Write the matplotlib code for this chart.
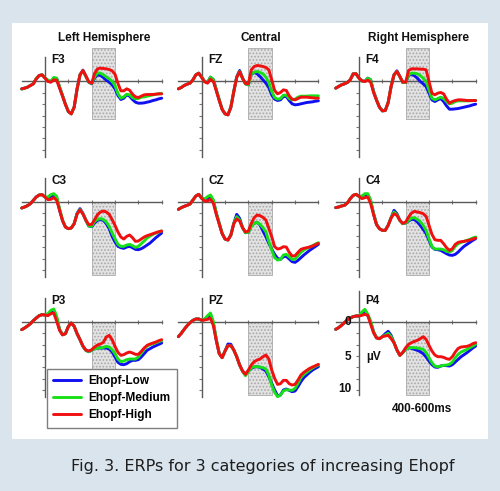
import numpy as np
import matplotlib
matplotlib.use('Agg')
import matplotlib.pyplot as plt
from matplotlib.patches import Rectangle

## Data: ERP amplitudes in microvolts (positive plotted downwards), every 25 ms
times = np.arange(-200, 1001, 25)

f3_low = [1.1, 1.0, 0.85, 0.6, 0.35, -0.4, -0.9, -1.0, -0.55, -0.15, 0.05, -0.5, -0.45, 0.85, 2.1, 3.4, 4.5, 4.85, 3.85, 1.1, -1.0, -1.7, -0.8, 0.1, 0.35,
          -0.5, -1.0, -0.9, -0.6, -0.2, 0.1, 0.5, 1.1, 2.1, 2.7, 2.5, 2.0, 2.2, 2.7, 3.1, 3.25, 3.25, 3.2, 3.1, 3.0, 2.85, 2.75, 2.6, 2.5]
f3_med = [1.15, 1.0, 0.85, 0.6, 0.35, -0.45, -0.9, -1.0, -0.55, -0.2, 0.0, -0.6, -0.5, 0.8, 2.1, 3.4, 4.5, 4.85, 3.85, 1.1, -1.0, -1.6, -0.75, 0.1, 0.3,
          -0.7, -1.3, -1.25, -1.0, -0.7, -0.4, 0.0, 0.6, 1.8, 2.5, 2.3, 1.9, 2.0, 2.4, 2.6, 2.55, 2.35, 2.3, 2.2, 2.1, 2.0, 1.9, 1.85, 1.8]
f3_high = [1.1, 1.0, 0.85, 0.6, 0.35, -0.4, -0.9, -1.0, -0.5, 0.0, 0.1, -0.25, -0.2, 1.0, 2.2, 3.45, 4.5, 4.85, 3.85, 1.1, -1.0, -1.65, -0.85, 0.05, 0.25,
           -1.2, -1.9, -2.0, -1.95, -1.9, -1.8, -1.6, -1.1, 0.3, 1.4, 1.4, 1.1, 1.3, 1.9, 2.3, 2.4, 2.2, 2.0, 1.95, 1.95, 1.95, 1.9, 1.85, 1.85]

fz_low = [1.1, 0.9, 0.6, 0.4, 0.25, -0.25, -1.0, -1.25, -0.65, 0.0, 0.15, -0.65, -0.3, 1.25, 2.75, 4.15, 4.85, 5.0, 3.85, 1.5, -0.7, -1.65, -0.55, 0.35, 0.5,
          -1.1, -1.35, -1.15, -0.75, -0.25, 0.25, 0.9, 2.0, 2.65, 2.85, 2.75, 2.25, 2.25, 2.85, 3.35, 3.5, 3.45, 3.35, 3.25, 3.15, 3.1, 3.05, 2.95, 2.9]
fz_med = [1.1, 0.9, 0.6, 0.4, 0.25, -0.25, -1.0, -1.25, -0.65, 0.0, 0.15, -0.65, -0.3, 1.25, 2.75, 4.15, 4.85, 5.0, 3.85, 1.5, -0.65, -1.5, -0.5, 0.35, 0.5,
          -1.15, -1.4, -1.5, -1.35, -1.15, -0.65, 0.15, 1.5, 2.4, 2.65, 2.55, 2.05, 2.05, 2.55, 2.75, 2.65, 2.35, 2.2, 2.2, 2.2, 2.15, 2.15, 2.15, 2.15]
fz_high = [1.1, 0.9, 0.6, 0.4, 0.25, -0.25, -1.0, -1.25, -0.6, 0.05, 0.25, -0.35, 0.0, 1.4, 2.85, 4.2, 4.85, 5.0, 3.85, 1.5, -0.6, -1.45, -0.45, 0.3, 0.35,
           -1.75, -2.25, -2.4, -2.35, -2.25, -2.1, -1.75, -0.25, 1.35, 1.85, 1.65, 1.25, 1.35, 2.15, 2.65, 2.75, 2.55, 2.35, 2.35, 2.35, 2.4, 2.45, 2.5, 2.5]

f4_low = [1.0, 0.75, 0.5, 0.35, 0.15, -0.25, -1.15, -1.15, -0.5, -0.1, 0.0, -0.5, -0.25, 1.5, 2.75, 3.85, 4.4, 4.35, 3.15, 0.75, -1.0, -1.6, -0.75, 0.15, 0.15,
          -0.9, -1.1, -0.85, -0.5, 0.0, 0.35, 0.75, 1.75, 2.75, 3.0, 2.75, 2.55, 3.0, 3.65, 4.15, 4.15, 4.1, 4.05, 3.95, 3.85, 3.75, 3.65, 3.5, 3.4]
f4_med = [1.0, 0.75, 0.5, 0.35, 0.15, -0.25, -1.15, -1.15, -0.5, -0.1, 0.0, -0.5, -0.25, 1.5, 2.75, 3.85, 4.4, 4.35, 3.15, 0.75, -1.0, -1.5, -0.75, 0.15, 0.15,
          -1.0, -1.25, -1.25, -1.15, -0.9, -0.5, 0.0, 1.25, 2.5, 2.75, 2.55, 2.35, 2.55, 3.0, 3.35, 3.25, 3.0, 2.9, 2.9, 2.9, 2.9, 2.9, 2.85, 2.85]
f4_high = [1.0, 0.75, 0.5, 0.35, 0.15, -0.25, -1.15, -1.15, -0.5, -0.1, 0.0, -0.2, 0.1, 1.65, 2.8, 3.85, 4.4, 4.35, 3.15, 0.75, -1.0, -1.5, -0.75, 0.1, 0.1,
           -1.65, -1.9, -1.9, -1.9, -1.85, -1.85, -1.75, 0.0, 1.75, 2.0, 1.75, 1.65, 1.85, 2.65, 3.25, 3.0, 2.85, 2.75, 2.75, 2.8, 2.85, 2.85, 2.85, 2.85]

c3_low = [0.9, 0.75, 0.55, 0.25, -0.25, -0.75, -1.05, -1.1, -0.75, -0.6, -0.85, -1.0, -0.65, 1.2, 2.75, 3.75, 4.0, 3.9, 3.25, 1.7, 1.0, 1.7, 2.75, 3.6, 3.7,
          3.15, 2.75, 2.65, 2.75, 3.25, 4.0, 5.15, 6.0, 6.65, 6.85, 6.95, 6.75, 6.65, 6.85, 7.1, 7.15, 7.0, 6.75, 6.45, 6.15, 5.75, 5.35, 5.0, 4.65]
c3_med = [0.9, 0.75, 0.55, 0.25, -0.25, -0.75, -1.05, -1.1, -0.75, -0.75, -1.1, -1.25, -0.85, 1.0, 2.7, 3.75, 4.0, 3.9, 3.25, 1.75, 1.15, 1.75, 2.75, 3.6, 3.65,
          2.9, 2.6, 2.5, 2.6, 3.0, 3.65, 4.65, 5.5, 6.35, 6.65, 6.65, 6.45, 6.35, 6.55, 6.8, 6.65, 6.25, 5.85, 5.4, 5.1, 4.85, 4.65, 4.5, 4.35]
c3_high = [0.9, 0.75, 0.55, 0.25, -0.25, -0.75, -1.05, -1.1, -0.75, -0.35, -0.4, -0.65, -0.25, 1.25, 2.8, 3.75, 4.0, 3.9, 3.25, 1.8, 1.2, 1.8, 2.7, 3.4, 3.35,
           2.65, 1.9, 1.5, 1.35, 1.5, 1.85, 2.65, 3.5, 4.5, 5.25, 5.55, 5.15, 4.95, 5.35, 5.9, 5.85, 5.55, 5.25, 5.05, 4.9, 4.75, 4.6, 4.45, 4.35]

cz_low = [1.1, 0.85, 0.65, 0.5, 0.3, -0.3, -0.9, -1.15, -0.55, -0.4, -0.55, -0.8, -0.15, 1.7, 3.2, 4.7, 5.55, 5.7, 4.95, 3.2, 1.85, 2.45, 3.85, 4.6, 4.55,
          3.55, 3.2, 3.05, 3.45, 4.35, 5.2, 6.2, 7.05, 7.85, 8.45, 8.6, 8.2, 8.15, 8.55, 8.95, 9.05, 8.75, 8.35, 7.95, 7.6, 7.25, 6.95, 6.65, 6.35]
cz_med = [1.1, 0.85, 0.65, 0.5, 0.3, -0.3, -0.9, -1.15, -0.55, -0.45, -0.8, -1.05, -0.3, 1.6, 3.2, 4.7, 5.55, 5.7, 4.95, 3.2, 2.2, 2.7, 3.85, 4.6, 4.55,
          3.7, 3.2, 3.05, 3.35, 3.85, 4.45, 5.95, 7.2, 8.35, 8.7, 8.6, 7.95, 7.85, 8.2, 8.6, 8.55, 8.05, 7.55, 7.2, 6.95, 6.75, 6.55, 6.3, 6.1]
cz_high = [1.1, 0.85, 0.65, 0.5, 0.3, -0.3, -0.9, -1.15, -0.55, -0.15, -0.15, -0.4, 0.2, 1.85, 3.3, 4.75, 5.55, 5.7, 4.95, 3.25, 2.55, 2.85, 3.85, 4.5, 4.35,
           3.2, 2.35, 1.95, 2.05, 2.3, 2.7, 3.95, 5.2, 6.7, 7.05, 6.95, 6.7, 6.75, 7.55, 8.1, 8.05, 7.55, 7.1, 6.95, 6.85, 6.75, 6.6, 6.4, 6.2]

c4_low = [0.85, 0.75, 0.6, 0.5, 0.15, -0.5, -1.0, -1.15, -0.85, -0.85, -1.1, -1.1, -0.15, 1.75, 3.35, 4.0, 4.25, 4.25, 3.5, 2.35, 1.25, 1.75, 2.75, 3.25, 3.15,
          2.85, 2.6, 2.65, 3.0, 3.5, 4.1, 4.75, 5.75, 6.75, 7.1, 7.15, 7.25, 7.5, 7.75, 7.95, 8.0, 7.85, 7.5, 7.05, 6.65, 6.35, 6.05, 5.75, 5.5]
c4_med = [0.85, 0.75, 0.6, 0.5, 0.15, -0.5, -1.0, -1.15, -0.85, -0.85, -1.25, -1.25, -0.25, 1.75, 3.35, 4.0, 4.25, 4.25, 3.5, 2.35, 1.5, 1.9, 2.75, 3.25, 3.15,
          2.75, 2.4, 2.35, 2.6, 2.95, 3.5, 4.25, 5.5, 6.65, 7.05, 7.05, 7.05, 7.15, 7.4, 7.5, 7.25, 6.65, 6.25, 6.05, 5.9, 5.75, 5.6, 5.4, 5.25]
c4_high = [0.85, 0.75, 0.6, 0.5, 0.15, -0.5, -1.0, -1.15, -0.85, -0.5, -0.65, -0.75, 0.25, 1.9, 3.4, 4.0, 4.25, 4.25, 3.5, 2.4, 1.75, 2.0, 2.75, 3.2, 3.0,
           2.25, 1.65, 1.4, 1.5, 1.6, 1.75, 2.15, 3.5, 4.85, 5.65, 5.75, 5.75, 6.25, 6.85, 7.25, 7.0, 6.35, 6.05, 5.95, 5.9, 5.8, 5.7, 5.55, 5.4]

p3_low = [1.15, 0.9, 0.6, 0.25, -0.2, -0.6, -0.95, -1.1, -1.05, -1.15, -1.55, -1.75, -0.6, 1.15, 1.9, 1.75, 0.65, 0.15, 0.65, 1.75, 2.65, 3.65, 4.25, 4.45, 4.25,
          3.95, 3.9, 3.9, 3.9, 3.9, 4.05, 4.5, 5.25, 6.05, 6.35, 6.4, 6.25, 5.95, 5.75, 5.75, 5.65, 5.25, 4.75, 4.25, 4.0, 3.75, 3.55, 3.35, 3.15]
p3_med = [1.15, 0.9, 0.6, 0.25, -0.2, -0.6, -0.95, -1.1, -1.05, -1.25, -1.75, -1.95, -0.85, 1.1, 1.9, 1.75, 0.65, 0.15, 0.65, 1.75, 2.65, 3.65, 4.25, 4.45, 4.25,
          4.0, 3.9, 3.9, 3.8, 3.65, 3.75, 4.15, 4.75, 5.55, 5.95, 5.85, 5.65, 5.55, 5.55, 5.55, 5.25, 4.65, 4.05, 3.6, 3.4, 3.25, 3.1, 2.95, 2.8]
p3_high = [1.15, 0.9, 0.6, 0.25, -0.2, -0.6, -0.95, -1.1, -1.05, -0.95, -1.25, -1.35, -0.1, 1.25, 1.95, 1.75, 0.7, 0.15, 0.65, 1.75, 2.65, 3.6, 4.2, 4.35, 4.15,
           3.75, 3.45, 3.3, 3.05, 2.25, 2.0, 2.65, 3.65, 4.55, 5.0, 4.9, 4.65, 4.5, 4.65, 4.85, 4.85, 4.4, 3.9, 3.5, 3.3, 3.15, 3.0, 2.8, 2.65]

pz_low = [2.2, 1.7, 1.1, 0.55, 0.1, -0.25, -0.45, -0.45, -0.25, -0.4, -0.7, -1.15, 0.2, 2.7, 4.7, 5.35, 4.35, 3.3, 3.35, 4.2, 5.2, 6.45, 7.35, 7.85, 7.35,
          6.95, 6.75, 6.7, 6.8, 7.05, 7.35, 8.2, 9.2, 10.2, 11.05, 10.95, 10.2, 10.05, 10.25, 10.45, 10.35, 9.7, 8.95, 8.35, 7.95, 7.55, 7.2, 6.95, 6.7]
pz_med = [2.2, 1.7, 1.1, 0.55, 0.1, -0.25, -0.45, -0.45, -0.25, -0.45, -0.95, -1.35, -0.05, 2.6, 4.7, 5.35, 4.35, 3.55, 3.55, 4.2, 5.2, 6.45, 7.4, 8.05, 7.45,
          6.85, 6.7, 6.7, 6.75, 6.85, 7.05, 7.95, 9.45, 10.55, 11.2, 10.95, 10.35, 10.15, 10.2, 10.25, 9.95, 9.2, 8.35, 7.85, 7.55, 7.2, 6.9, 6.65, 6.45]
pz_high = [2.2, 1.7, 1.1, 0.55, 0.1, -0.25, -0.45, -0.45, -0.25, -0.3, -0.4, -0.55, 0.55, 2.8, 4.75, 5.35, 4.35, 3.55, 3.55, 4.2, 5.2, 6.45, 7.35, 7.85, 7.2,
           6.45, 5.95, 5.7, 5.55, 5.2, 4.95, 5.55, 7.2, 8.45, 9.35, 9.25, 8.75, 8.75, 9.25, 9.45, 9.35, 8.7, 7.95, 7.55, 7.25, 6.95, 6.75, 6.55, 6.35]

p4_low = [1.1, 0.85, 0.5, 0.1, -0.3, -0.6, -0.8, -0.9, -0.9, -1.3, -1.75, -1.0, 0.0, 1.5, 2.35, 2.5, 2.2, 1.75, 1.4, 2.0, 3.1, 4.2, 5.0, 4.6, 4.1,
          3.85, 3.95, 4.1, 4.25, 4.45, 4.75, 5.25, 5.85, 6.4, 6.75, 6.8, 6.6, 6.5, 6.55, 6.6, 6.4, 6.0, 5.6, 5.2, 4.9, 4.6, 4.25, 3.9, 3.6]
p4_med = [1.1, 0.85, 0.5, 0.1, -0.3, -0.6, -0.8, -0.9, -0.9, -1.5, -1.9, -1.15, -0.15, 1.5, 2.35, 2.5, 2.2, 1.95, 1.7, 2.2, 3.1, 4.2, 5.0, 4.6, 4.1,
          3.85, 3.85, 3.85, 3.9, 4.0, 4.1, 4.6, 5.35, 6.1, 6.6, 6.7, 6.6, 6.5, 6.45, 6.35, 6.0, 5.35, 4.85, 4.5, 4.3, 4.1, 3.85, 3.6, 3.35]
p4_high = [1.1, 0.85, 0.5, 0.1, -0.3, -0.6, -0.8, -0.9, -0.9, -1.0, -1.15, -1.0, 0.35, 1.6, 2.4, 2.5, 2.2, 2.1, 2.0, 2.5, 3.1, 4.2, 5.0, 4.55, 3.85,
           3.35, 3.1, 2.9, 2.75, 2.5, 2.2, 2.6, 3.5, 4.35, 4.95, 5.2, 5.2, 5.3, 5.5, 5.6, 5.2, 4.5, 3.95, 3.75, 3.7, 3.65, 3.5, 3.25, 3.1]

channels = [['F3', 'FZ', 'F4'], ['C3', 'CZ', 'C4'], ['P3', 'PZ', 'P4']]
waves = {
    'F3': (f3_low, f3_med, f3_high), 'FZ': (fz_low, fz_med, fz_high), 'F4': (f4_low, f4_med, f4_high),
    'C3': (c3_low, c3_med, c3_high), 'CZ': (cz_low, cz_med, cz_high), 'C4': (c4_low, c4_med, c4_high),
    'P3': (p3_low, p3_med, p3_high), 'PZ': (pz_low, pz_med, pz_high), 'P4': (p4_low, p4_med, p4_high),
}
col_titles = ['Left Hemisphere', 'Central', 'Right Hemisphere']
labels = ['Ehopf-Low', 'Ehopf-Medium', 'Ehopf-High']
colors = ['#1010f0', '#18e018', '#f01010']
window = (400, 600)

## Layout (pixels of the 500x491 picture)
W, H = 500, 491
PX_MS = 0.1167     # pixels per millisecond
PX_UV = 6.67       # pixels per microvolt
col_x0 = [45, 201.7, 359]   # where t = 0 sits
row_y0 = [81.5, 202, 322]   # where 0 uV sits
VMIN, VMAX = -5.5, 13.5

plt.rcParams['font.family'] = ['Liberation Sans', 'DejaVu Sans']
plt.rcParams['hatch.linewidth'] = 0.8
bold = dict(fontsize=8.5, fontweight='bold', color='#111111')

fig = plt.figure(figsize=(W / 100, H / 100), dpi=100)
fig.patch.set_facecolor('#d9e4ed')
fig.add_artist(Rectangle((12 / W, 1 - 439 / H), 476 / W, 416 / H, transform=fig.transFigure,
                         facecolor='white', edgecolor='none', zorder=0))

axes = {}
for r, row in enumerate(channels):
    for c, ch in enumerate(row):
        x0, y0 = col_x0[c], row_y0[r]
        left = x0 - 200 * PX_MS
        top = y0 + VMIN * PX_UV
        bottom = y0 + VMAX * PX_UV
        ax = fig.add_axes([left / W, 1 - bottom / H, 1200 * PX_MS / W, (bottom - top) / H])
        ax.set_xlim(-200, 1000)
        ax.set_ylim(VMAX, VMIN)
        ax.patch.set_alpha(0)
        for s in ['top', 'right']:
            ax.spines[s].set_visible(False)
        ax.spines['left'].set_position(('data', 0))
        ax.spines['bottom'].set_position(('data', 0))
        if ch == 'P4':
            ax.spines['left'].set_bounds(-4.6, 11.0)
        else:
            ax.spines['left'].set_bounds(-3.6, 11.3)
        for s in ['left', 'bottom']:
            ax.spines[s].set_color('#5a5a5a')
            ax.spines[s].set_linewidth(1.0)
        ax.set_xticks([200, 400, 600, 800, 1000])
        ax.set_yticks([1.7, 3.4, 5.1, 6.8, 8.5, 10.2])
        ax.tick_params(axis='x', direction='inout', length=3, width=0.8, color='#777777', labelbottom=False)
        ax.tick_params(axis='y', direction='out', length=2.5, width=0.8, color='#777777', labelleft=False)

        # shaded 400-600 ms window
        if r == 0:
            y_a, y_b = -5.0, 5.6
        else:
            y_a, y_b = 0.0, 11.0
        ax.add_patch(Rectangle((window[0], y_a), window[1] - window[0], y_b - y_a,
                               facecolor='#e2e2e2', edgecolor='#a9a9a9', hatch='.....',
                               linewidth=0.6, zorder=1))

        for vals, col, lab in zip(waves[ch], colors, labels):
            ax.plot(times, vals, color=col, lw=2.1, label=lab, zorder=3,
                    solid_capstyle='round', solid_joinstyle='round', clip_on=False)

        ax.text(55, -3.15, ch, ha='left', va='center', **bold)
        axes[ch] = ax

for c, title in enumerate(col_titles):
    xc = col_x0[c] + 500 * PX_MS + 1
    fig.text(xc / W, 1 - 38 / H, title, ha='center', va='center', **bold)

# amplitude labels on P4
ax = axes['P4']
ax.text(-65, 0, '0', ha='right', va='center', **bold)
ax.text(-65, 5.2, '5', ha='right', va='center', **bold)
ax.text(-65, 10.0, '10', ha='right', va='center', **bold)
ax.text(60, 5.2, 'µV', ha='left', va='center', **bold)
ax.text(540, 13.0, '400-600ms', ha='center', va='center', clip_on=False, **bold)

# legend
leg = axes['P3'].legend(loc='upper left', bbox_to_anchor=(47 / W, 1 - 369 / H),
                        bbox_transform=fig.transFigure, borderaxespad=0,
                        prop=dict(family='Liberation Sans', weight='bold', size=8.5),
                        handlelength=2.3, handletextpad=0.65, labelspacing=0.42, borderpad=0.55,
                        fancybox=False, framealpha=1, edgecolor='#7f7f7f')
leg.get_frame().set_linewidth(1.0)
for line in leg.get_lines():
    line.set_linewidth(2.1)
leg.set_zorder(10)

fig.text(262.5 / W, 1 - 466 / H, 'Fig. 3. ERPs for 3 categories of increasing Ehopf',
         ha='center', va='center', family='DejaVu Sans', fontsize=11.5, color='#1e1e1e')

fig.savefig('out.png', dpi=100, facecolor=fig.get_facecolor())
